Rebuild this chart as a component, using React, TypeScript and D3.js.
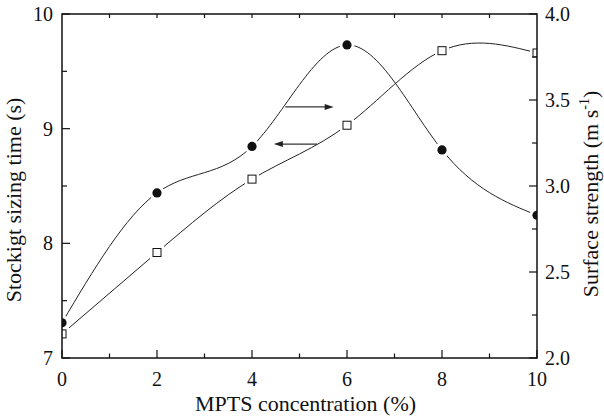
import React from 'react';
import * as d3 from 'd3';

const concentration = [0, 2, 4, 6, 8, 10];
const sizingTime = [7.21, 7.92, 8.56, 9.03, 9.68, 9.66];
const surfaceStrength = [2.205, 2.96, 3.23, 3.82, 3.21, 2.83];
const xTickLabels = [0, 2, 4, 6, 8, 10];
const leftTickLabels = [7, 8, 9, 10];
const rightTickLabels = ['2.0', '2.5', '3.0', '3.5', '4.0'];
// arrow annotations (data coordinates): [x1, x2, y]
const rightArrow = [4.7, 5.72, 3.46];
const leftArrow = [5.37, 4.46, 8.866];

const W = 604, H = 419;
const P = { left: 62, right: 537, top: 14, bottom: 358 };
const fontCss = `.serif-chart text, .serif-chart tspan { font-family: 'Liberation Serif', 'Times New Roman', Times, serif !important; }`;

export default function App() {
  const x = d3.scaleLinear().domain([0, 10]).range([P.left, P.right]);
  const yL = d3.scaleLinear().domain([7, 10]).range([P.bottom, P.top]);
  const yR = d3.scaleLinear().domain([2, 4]).range([P.bottom, P.top]);
  const line = d3.line<[number, number]>().curve(d3.curveNatural);

  const sqPts: [number, number][] = concentration.map((c, i) => [x(c), yL(sizingTime[i])]);
  const ciPts: [number, number][] = concentration.map((c, i) => [x(c), yR(surfaceStrength[i])]);

  const xMinor = d3.range(1, 10, 2);
  const xMajor = xTickLabels;
  const lMinor = [7.5, 8.5, 9.5];
  const rAll = d3.range(2, 4.001, 0.25);

  const stroke = '#111';
  const ts = { fontFamily: "'Liberation Serif'" };

  const arrow = (x1: number, x2: number, yy: number, key: string) => {
    const dir = x2 > x1 ? 1 : -1;
    const tip = x2;
    const len = 9, hw = 3;
    return (
      <g key={key}>
        <line x1={x1} x2={tip - dir * len + dir * 1} y1={yy} y2={yy} stroke="#333" strokeWidth={1.2} />
        <path d={`M${tip},${yy} L${tip - dir * len},${yy - hw} L${tip - dir * len},${yy + hw} Z`} fill="#222" />
      </g>
    );
  };

  return (
    <svg className="serif-chart" width={W} height={H} style={{ position: 'fixed', left: 0, top: 0 }}>
      <style>{fontCss}</style>
      <defs>
        <clipPath id="plotclip">
          <rect x={P.left} y={P.top} width={P.right - P.left} height={P.bottom - P.top} />
        </clipPath>
      </defs>
      <rect x={0} y={0} width={W} height={H} fill="#fff" />
      <g clipPath="url(#plotclip)">
        <path d={line(sqPts) || ''} fill="none" stroke="#222" strokeWidth={1} />
        <path d={line(ciPts) || ''} fill="none" stroke="#222" strokeWidth={1} />
        {arrow(x(rightArrow[0]), x(rightArrow[1]), yR(rightArrow[2]), 'ra')}
        {arrow(x(leftArrow[0]), x(leftArrow[1]), yL(leftArrow[2]), 'la')}
        {sqPts.map((p, i) => (
          <rect key={'sh' + i} x={p[0] - 7} y={p[1] - 7} width={14} height={14} fill="#fff" />
        ))}
        {ciPts.map((p, i) => (
          <circle key={'ch' + i} cx={p[0]} cy={p[1]} r={7.5} fill="#fff" />
        ))}
        {sqPts.map((p, i) => (
          <rect key={'s' + i} x={p[0] - 4} y={p[1] - 4} width={8} height={8} fill="#fff" stroke="#111" strokeWidth={1} />
        ))}
        {ciPts.map((p, i) => (
          <circle key={'c' + i} cx={p[0]} cy={p[1]} r={4.6} fill="#111" />
        ))}
      </g>

      {/* frame */}
      <rect x={P.left} y={P.top} width={P.right - P.left} height={P.bottom - P.top}
        fill="none" stroke={stroke} strokeWidth={1.5} />

      {/* bottom ticks */}
      {xMajor.map(v => (
        <line key={'bx' + v} x1={x(v)} x2={x(v)} y1={P.bottom} y2={P.bottom - 8} stroke={stroke} strokeWidth={1.2} />
      ))}
      {xMinor.map(v => (
        <line key={'bxm' + v} x1={x(v)} x2={x(v)} y1={P.bottom} y2={P.bottom - 4.5} stroke={stroke} strokeWidth={1.2} />
      ))}
      {/* top ticks */}
      {d3.range(1, 10).map(v => (
        <line key={'tx' + v} x1={x(v)} x2={x(v)} y1={P.top} y2={P.top + 4} stroke={stroke} strokeWidth={1.2} />
      ))}
      {/* left ticks */}
      {leftTickLabels.map(v => (
        <line key={'ly' + v} x1={P.left} x2={P.left + 8} y1={yL(v)} y2={yL(v)} stroke={stroke} strokeWidth={1.2} />
      ))}
      {lMinor.map(v => (
        <line key={'lym' + v} x1={P.left} x2={P.left + 5} y1={yL(v)} y2={yL(v)} stroke={stroke} strokeWidth={1.2} />
      ))}
      {/* right ticks */}
      {rAll.map((v, i) => (
        <line key={'ry' + i} x1={P.right} x2={P.right - (i % 2 === 0 ? 8 : 5)} y1={yR(v)} y2={yR(v)} stroke={stroke} strokeWidth={1.2} />
      ))}

      {/* tick labels */}
      {xTickLabels.map(v => (
        <text key={'xl' + v} style={ts} x={x(v)} y={386} textAnchor="middle" fontSize={20} fill="#111">{String(v)}</text>
      ))}
      {leftTickLabels.map(v => (
        <text key={'ll' + v} style={ts} x={P.left - 9} y={yL(v) + 7} textAnchor="end" fontSize={20} fill="#111">{String(v)}</text>
      ))}
      {rightTickLabels.map(v => (
        <text key={'rl' + v} style={ts} x={P.right + 8} y={yR(+v) + 7} textAnchor="start" fontSize={20} fill="#111">{v}</text>
      ))}

      {/* axis titles */}
      <text style={ts} x={(P.left + P.right) / 2 + 6} y={411} textAnchor="middle" fontSize={22} fill="#111">MPTS concentration (%)</text>
      <text style={ts} transform={`translate(21,${(P.top + P.bottom) / 2 + 14}) rotate(-90)`} textAnchor="middle" fontSize={22} fill="#111">
        Stockigt sizing time (s)
      </text>
      <text style={ts} transform={`translate(598,${(P.top + P.bottom) / 2 + 8}) rotate(-90)`} textAnchor="middle" fontSize={22} fill="#111">
        Surface strength (m s<tspan dy={-9} fontSize={14}>-1</tspan><tspan dy={9}>)</tspan>
      </text>
    </svg>
  );
}
